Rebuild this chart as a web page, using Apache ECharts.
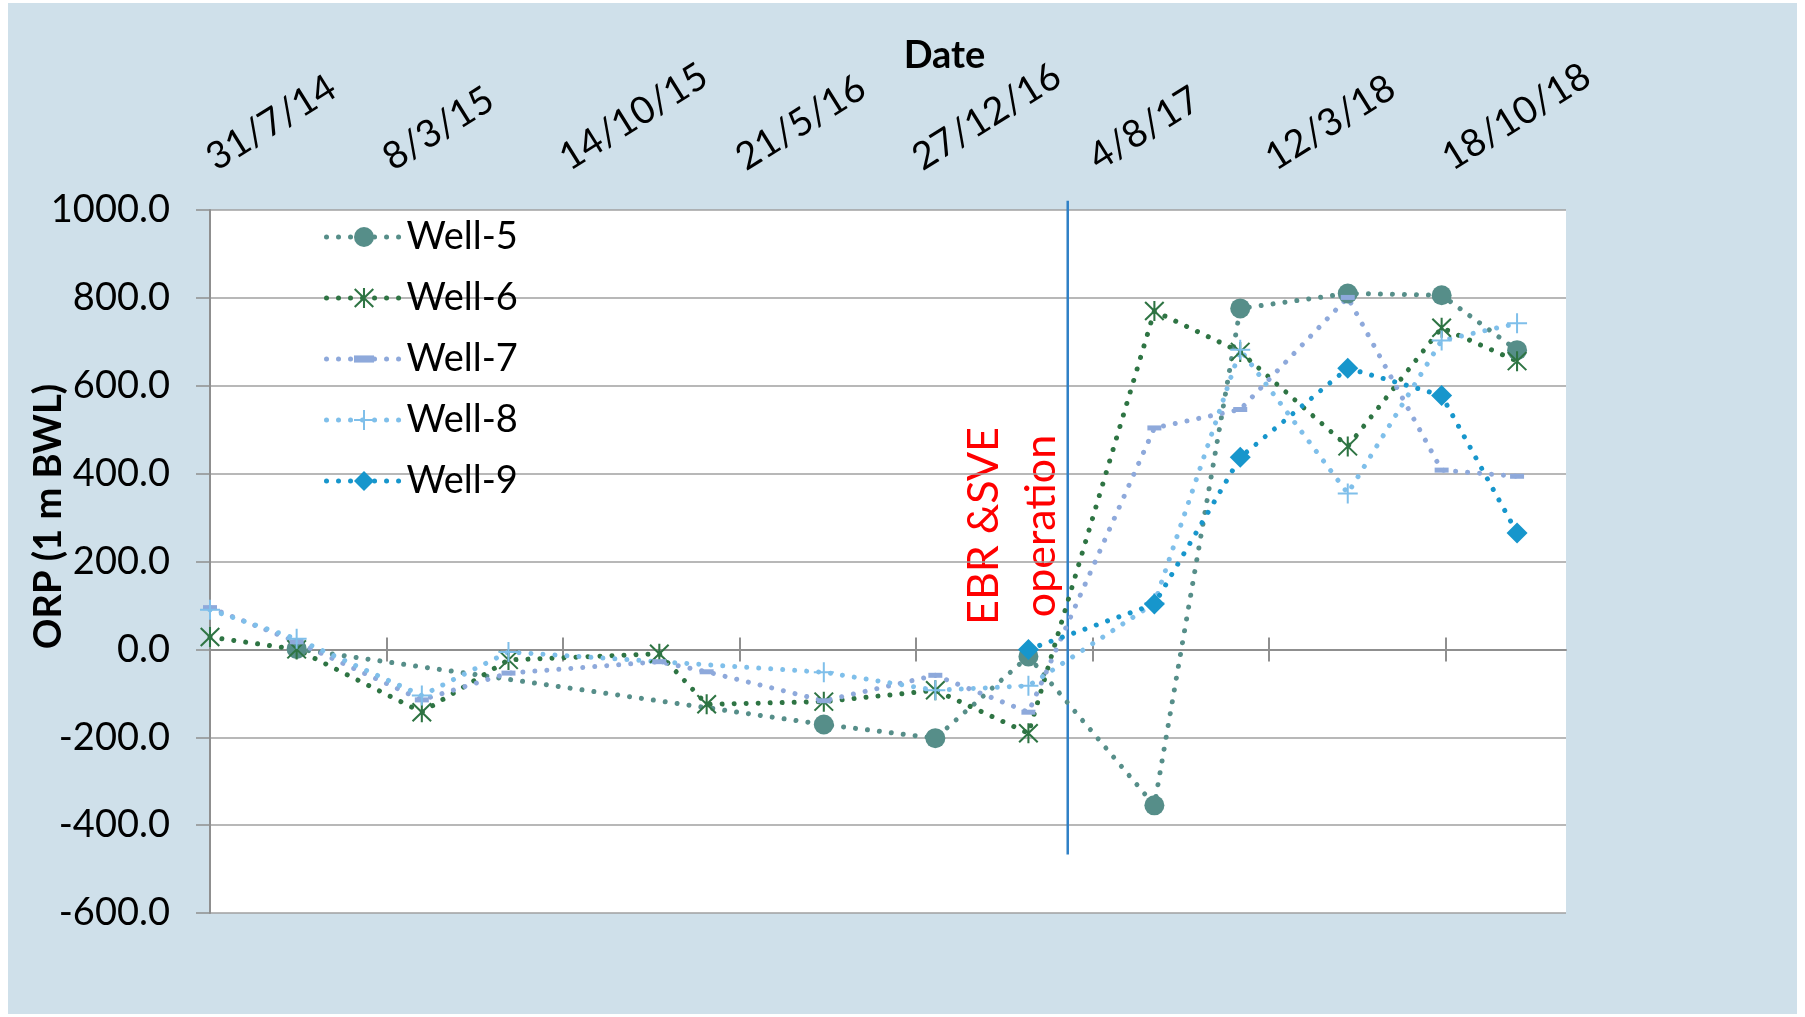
<!DOCTYPE html>
<html>
<head>
    <meta charset="utf-8" />
    <title>ORP (1 m BWL)</title>
    <script src="https://cdn.jsdelivr.net/npm/echarts@6/dist/echarts.min.js"></script>
    <style>
        html, body { margin: 0; padding: 0; background: #fff; }
        #main { position: absolute; left: 8px; top: 3px; width: 1789px; height: 1011px; background: #cfe0ea; }
    </style>
</head>
<body>
    <div id="main"></div>

    <script type="text/javascript">
        // sampling dates (d/m/y)
        var sampleDates = ['2014-07-31', '2014-11-16', '2015-04-21', '2015-08-07', '2016-02-11', '2016-04-10',
            '2016-09-03', '2017-01-20', '2017-05-16', '2017-10-20', '2018-02-04', '2018-06-18', '2018-10-13', '2019-01-15'];

        // ORP values, null = not measured
        var well5 = [null, 1, null, null, null, null, -171, -202, -16, -355, 776, 810, 806, 681];
        var well6 = [28, 0, -143, -24, -10, -125, -119, -93, -191, 770, 677, 462, 732, 656];
        var well7 = [95, 17, -115, -54, -28, -51, -117, -59, -143, 504, 546, 801, 408, 394];
        var well8 = [90, 24, -105, -6, null, null, -52, -93, -83, 105, 682, 355, 703, 742];
        var well9 = [null, null, null, null, null, null, null, null, 0, 103, 437, 640, 578, 265];

        var seriesNames = ['Well-5', 'Well-6', 'Well-7', 'Well-8', 'Well-9'];

        // date axis ticks
        var tickDates = ['2014-07-31', '2015-03-08', '2015-10-14', '2016-05-21', '2016-12-27', '2017-08-04', '2018-03-12', '2018-10-18'];
        var tickLabels = ['31/7/14', '8/3/15', '14/10/15', '21/5/16', '27/12/16', '4/8/17', '12/3/18', '18/10/18'];
        var axisStart = '2014-07-31';
        var axisEnd = '2019-03-17';

        // EBR & SVE start marker (drawn as a plain line, reaches a bit above the plot)
        var operationStart = '2017-07-04';
        var markerTop = 1021;
        var markerBottom = -467;

        function toTime(s) { return Date.parse(s); }
        var tickTimes = tickDates.map(toTime);

        function pairs(vals) {
            var out = [];
            vals.forEach(function (v, i) {
                if (v !== null) out.push([toTime(sampleDates[i]), v]);
            });
            return out;
        }

        var FONT = 'Lato';
        var GRAY = '#8f8f8f';

        // marker shapes
        var asterisk = 'path://M9,0 H11 V20 H9 Z M1.7,0.3 L19.7,18.3 L18.3,19.7 L0.3,1.7 Z M18.3,0.3 L19.7,1.7 L1.7,19.7 L0.3,18.3 Z';
        var plus = 'path://M9,0 H11 V9 H20 V11 H11 V20 H9 V11 H0 V9 H9 Z';
        var dash = 'path://M0,0 M0,4.5 H14 V9.5 H0 Z M14,14';

        var dots = { width: 5, type: [0.01, 12], cap: 'round' };

        function line(name, vals, color, symbol, size) {
            return {
                name: name,
                type: 'line',
                xAxisIndex: 0,
                yAxisIndex: 0,
                data: pairs(vals),
                symbol: symbol,
                symbolSize: size,
                showSymbol: true,
                clip: false,
                itemStyle: { color: color },
                lineStyle: Object.assign({ color: color }, dots),
                emphasis: { disabled: true }
            };
        }

        var myChart = echarts.init(document.getElementById('main'));

        var grid = { left: 202, top: 207, width: 1356, height: 703 };

        var option = {
            animation: false,
            grid: [
                Object.assign({ show: true, backgroundColor: '#fff', borderWidth: 0, outerBoundsMode: 'none' }, grid),
                Object.assign({ show: false, outerBoundsMode: 'none' }, grid)
            ],
            legend: {
                data: seriesNames,
                orient: 'vertical',
                left: 311,
                top: 209,
                itemWidth: 75,
                itemHeight: 25,
                itemGap: 21,
                lineStyle: { width: 5, type: [0.01, 12], cap: 'round' },
                textStyle: { fontFamily: FONT, fontSize: 38, color: '#000', lineHeight: 40 }
            },
            xAxis: [
                // axis line at zero with ticks pointing down
                {
                    gridIndex: 0, type: 'value', position: 'bottom',
                    min: toTime(axisStart), max: toTime(axisEnd),
                    axisLine: { show: true, onZero: true, onZeroAxisIndex: 0, lineStyle: { color: GRAY, width: 2 } },
                    axisTick: { show: true, customValues: tickTimes, length: 12, lineStyle: { color: GRAY, width: 2 } },
                    axisLabel: { show: false },
                    splitLine: { show: false }
                },
                // same ticks pointing up
                {
                    gridIndex: 0, type: 'value', position: 'top',
                    min: toTime(axisStart), max: toTime(axisEnd),
                    axisLine: { show: true, onZero: true, onZeroAxisIndex: 0, lineStyle: { color: 'rgba(0,0,0,0)', width: 0 } },
                    axisTick: { show: true, customValues: tickTimes, length: 12, lineStyle: { color: GRAY, width: 2 } },
                    axisLabel: { show: false },
                    splitLine: { show: false }
                },
                // date labels on top
                {
                    gridIndex: 1, type: 'value', position: 'top',
                    min: toTime(axisStart), max: toTime(axisEnd),
                    axisLine: { show: false, onZero: false },
                    axisTick: { show: false },
                    splitLine: { show: false },
                    axisLabel: {
                        customValues: tickTimes,
                        rotate: -32,
                        margin: 49,
                        fontFamily: FONT,
                        fontSize: 38,
                        color: '#000',
                        formatter: function (v) {
                            var i = tickTimes.indexOf(v);
                            return i >= 0 ? tickLabels[i] : '';
                        }
                    },
                    name: 'Date',
                    nameLocation: 'middle',
                    nameGap: 135,
                    nameMoveOverlap: false,
                    nameTextStyle: { fontFamily: FONT, fontSize: 38, fontWeight: 'bold', color: '#000', padding: [0, 0, 0, 113] }
                }
            ],
            yAxis: [
                {
                    gridIndex: 0, type: 'value',
                    min: -600, max: 1000, interval: 200,
                    axisLine: { show: true, onZero: false, lineStyle: { color: GRAY, width: 2 } },
                    axisTick: { show: true, length: 14, lineStyle: { color: GRAY, width: 1.5 } },
                    splitLine: { show: true, lineStyle: { color: '#a0a0a0', width: 1.5 } },
                    axisLabel: {
                        margin: 40,
                        fontFamily: FONT,
                        fontSize: 38,
                        color: '#000',
                        formatter: function (v) { return v.toFixed(1); }
                    },
                    name: 'ORP (1 m BWL)',
                    nameLocation: 'middle',
                    nameRotate: 90,
                    nameGap: 142,
                    nameMoveOverlap: false,
                    nameTextStyle: { fontFamily: FONT, fontSize: 38, fontWeight: 'bold', color: '#000', padding: [0, 0, 0, 90] }
                },
                {
                    gridIndex: 1, type: 'value', show: false,
                    min: -600, max: 1000, interval: 200
                }
            ],
            graphic: [{
                id: 'opText',
                type: 'text',
                x: 1005,
                y: 523,
                rotation: Math.PI / 2,
                silent: true,
                style: {
                    text: 'EBR &SVE\noperation',
                    font: '43px Lato',
                    lineHeight: 57,
                    fill: '#ff0000',
                    align: 'center',
                    verticalAlign: 'middle'
                }
            }],
            series: [
                line('Well-5', well5, '#568e89', 'circle', 20),
                line('Well-6', well6, '#2e7443', asterisk, 20),
                line('Well-7', well7, '#8ea9db', dash, 14),
                line('Well-8', well8, '#7fbfea', plus, 20),
                line('Well-9', well9, '#1796cc', 'diamond', 21)
            ]
        };

        myChart.setOption(option);

        // vertical start-of-operation line, placed through the axes
        var lx = myChart.convertToPixel({ xAxisIndex: 0 }, toTime(operationStart));
        var ly1 = myChart.convertToPixel({ yAxisIndex: 0 }, markerTop);
        var ly2 = myChart.convertToPixel({ yAxisIndex: 0 }, markerBottom);
        myChart.setOption({
            graphic: [{
                id: 'opLine',
                type: 'line',
                silent: true,
                z: 3,
                shape: { x1: lx, y1: ly1, x2: lx, y2: ly2 },
                style: { stroke: '#2f80c6', lineWidth: 2.5 }
            }]
        });
    </script>
</body>
</html>
